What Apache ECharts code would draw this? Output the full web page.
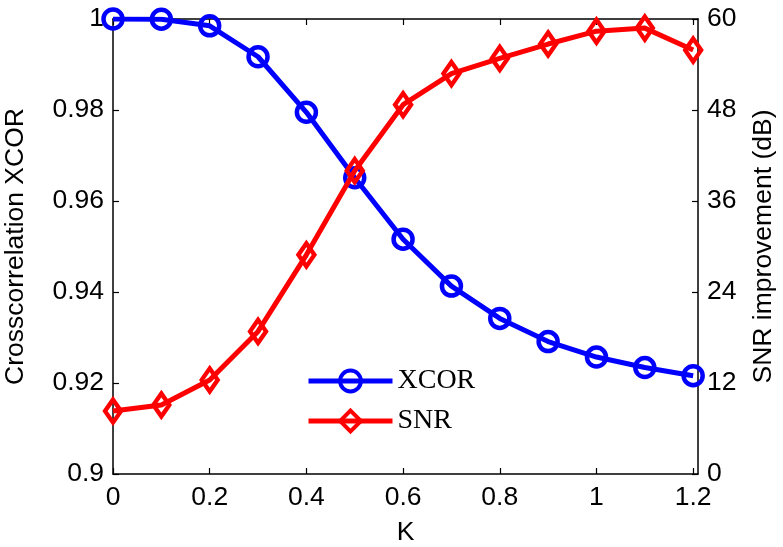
<!DOCTYPE html>
<html>
<head>
<meta charset="utf-8">
<script src="https://cdn.jsdelivr.net/npm/echarts@6/dist/echarts.min.js"></script>
<style>html,body{margin:0;padding:0;background:#fff;}#c{width:783px;height:547px;}</style>
</head>
<body>
<div id="c"></div>
<script>
var K = [0, 0.1, 0.2, 0.3, 0.4, 0.5, 0.6, 0.7, 0.8, 0.9, 1.0, 1.1, 1.2];
var XCOR = [1.0, 0.99995, 0.9985, 0.9917, 0.9795, 0.9651, 0.9516, 0.9413, 0.9342, 0.9291, 0.9257, 0.9234, 0.9216];
var SNR = [8.3, 9.1, 12.4, 18.8, 28.9, 40.0, 48.7, 52.8, 54.8, 56.7, 58.4, 58.8, 55.9];
var xTicks = [0, 0.2, 0.4, 0.6, 0.8, 1, 1.2];
var leftTicks = [0.9, 0.92, 0.94, 0.96, 0.98, 1];
var rightTicks = [0, 12, 24, 36, 48, 60];

var font = 'Liberation Sans';
var fs = 26.5;
var chart = echarts.init(document.getElementById('c'));
function pairs(ys){ return K.map(function(k,i){ return [k, ys[i]]; }); }
var axisLine = {show: true, onZero: false, lineStyle: {color: '#000', width: 1.5}};
var tick = {show: true, inside: true, length: 6, lineStyle: {color: '#000', width: 1.2}};
chart.setOption({
  animation: false,
  backgroundColor: '#fff',
  grid: {left: 113, right: 85, top: 19, bottom: 73, containLabel: false, outerBoundsMode: 'none'},
  legend: {
    orient: 'vertical', left: 301, top: 362,
    itemWidth: 84, itemHeight: 26, itemGap: 12,
    lineStyle: {width: 5},
    itemStyle: {borderWidth: 4},
    textStyle: {fontFamily: 'Liberation Serif', fontSize: 28, color: '#000', padding: [0,0,0,0]},
    data: ['XCOR', 'SNR']
  },
  xAxis: [{
    type: 'value', min: 0, max: 1.21, position: 'bottom',
    name: 'K', nameLocation: 'middle', nameGap: 45,
    nameTextStyle: {fontFamily: font, fontSize: fs, color: '#000'},
    axisLine: axisLine,
    axisTick: Object.assign({customValues: xTicks}, tick),
    axisLabel: {customValues: xTicks, fontFamily: font, fontSize: fs, color: '#000', margin: 10,
      formatter: function(v){ return String(Math.round(v*10)/10); }},
    splitLine: {show: false}
  }, {
    type: 'value', min: 0, max: 1.21, position: 'top',
    axisLine: axisLine,
    axisTick: Object.assign({customValues: xTicks}, tick),
    axisLabel: {show: false},
    splitLine: {show: false}
  }],
  yAxis: [{
    type: 'value', min: 0.9, max: 1, interval: 0.02, position: 'left',
    name: 'Crosscorrelation XCOR', nameLocation: 'middle', nameGap: 84,
    nameTextStyle: {fontFamily: font, fontSize: fs, color: '#000'},
    axisLine: axisLine, axisTick: tick,
    axisLabel: {fontFamily: font, fontSize: fs, color: '#000', margin: 9,
      formatter: function(v){ return String(Math.round(v*100)/100); }},
    splitLine: {show: false}
  }, {
    type: 'value', min: 0, max: 60, interval: 12, position: 'right',
    name: 'SNR improvement (dB)', nameLocation: 'middle', nameGap: 52,
    nameTextStyle: {fontFamily: font, fontSize: fs, color: '#000'},
    axisLine: axisLine, axisTick: tick,
    axisLabel: {fontFamily: font, fontSize: fs, color: '#000', margin: 9},
    splitLine: {show: false}
  }],
  series: [{
    name: 'XCOR', type: 'line', xAxisIndex: 0, yAxisIndex: 0,
    data: pairs(XCOR),
    symbol: 'circle', symbolSize: 19,
    itemStyle: {color: 'rgba(0,0,255,0)', borderColor: '#0000ff', borderWidth: 4.5},
    lineStyle: {color: '#0000ff', width: 5},
    z: 3
  }, {
    name: 'SNR', type: 'line', xAxisIndex: 0, yAxisIndex: 1,
    data: pairs(SNR),
    symbol: 'diamond', symbolSize: [16, 23],
    itemStyle: {color: 'rgba(255,0,0,0)', borderColor: '#ff0000', borderWidth: 4.5},
    lineStyle: {color: '#ff0000', width: 5},
    z: 4
  }]
});
</script>
</body>
</html>
